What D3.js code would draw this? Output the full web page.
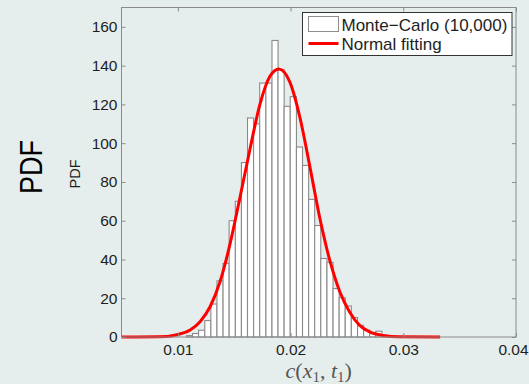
<!DOCTYPE html>
<html>
<head>
<meta charset="utf-8">
<script src="https://cdn.jsdelivr.net/npm/d3@7/dist/d3.min.js"></script>
<style>
  html, body { margin: 0; padding: 0; background: #e5eeec; }
  svg { display: block; }
</style>
</head>
<body>
<svg id="chart" width="529" height="384"></svg>
<script>
// Histogram of 10,000 Monte-Carlo samples of c(x1, t1), scaled as a PDF
const binEdges = [
  0.01076, 0.01130, 0.01184, 0.01239, 0.01293, 0.01347, 0.01401, 0.01455,
  0.01510, 0.01564, 0.01618, 0.01672, 0.01726, 0.01781, 0.01835, 0.01889,
  0.01943, 0.01997, 0.02052, 0.02106, 0.02160, 0.02214, 0.02268, 0.02323,
  0.02377, 0.02431, 0.02485, 0.02539, 0.02594, 0.02648, 0.02702, 0.02756,
  0.02810, 0.02865
];
const binDensity = [
  0.7, 1.8, 3.5, 8.5, 17, 29, 38, 60, 70, 90, 113, 110, 131, 131, 153, 138,
  119, 124, 98, 88.5, 71, 57.5, 40.5, 38.5, 25, 20.3, 16, 10, 6, 3.5, 1.8, 3, 0.8
];

// Fitted normal density, sampled along c
const fitX = [
  0.005, 0.00903, 0.0100, 0.01109, 0.01197, 0.01286, 0.01374, 0.01463,
  0.01551, 0.0164, 0.01728, 0.01817, 0.01896, 0.01994, 0.02082, 0.02171,
  0.02259, 0.02348, 0.02436, 0.02525, 0.02613, 0.02702, 0.0282, 0.02967, 0.03327
];
const fitY = [
  0, 0.3, 1.3, 3.6, 7.9, 15.6, 28.5, 48, 72, 97, 120, 134.5, 138.3, 131.5,
  113.5, 88, 61.5, 39.5, 23.5, 12.8, 6, 2.6, 0.8, 0.1, 0
];

const xTicks = [0.01, 0.02, 0.03, 0.04];
const yTicks = [0, 20, 40, 60, 80, 100, 120, 140, 160];
const legendLabels = ["Monte\u2212Carlo (10,000)", "Normal fitting"];

const svg = d3.select("#chart");
const box = { left: 121.5, right: 516, top: 7.5, bottom: 337 };

const x = d3.scaleLinear().domain([0.005, 0.04]).range([box.left, box.right]);
const y = d3.scaleLinear().domain([0, 170]).range([box.bottom, box.top]);

const axisColor = "#8a8a8a";
const font = "'Liberation Sans', Arial, Helvetica, sans-serif";

// Histogram bars
svg.append("g")
  .selectAll("rect")
  .data(binDensity)
  .join("rect")
  .attr("x", (d, i) => x(binEdges[i]))
  .attr("width", (d, i) => x(binEdges[i + 1]) - x(binEdges[i]))
  .attr("y", d => y(d))
  .attr("height", d => y(0) - y(d))
  .attr("fill", "#ffffff")
  .attr("stroke", "#8a8a8a")
  .attr("stroke-width", 1.1);

// Normal fit curve
const line = d3.line()
  .x((d, i) => x(fitX[i]))
  .y(d => y(d))
  .curve(d3.curveMonotoneX);

svg.append("path")
  .datum(fitY)
  .attr("d", line)
  .attr("fill", "none")
  .attr("stroke", "#ff0000")
  .attr("stroke-width", 3)
  .attr("stroke-linejoin", "round");

// Frame
svg.append("rect")
  .attr("x", box.left).attr("y", box.top)
  .attr("width", box.right - box.left).attr("height", box.bottom - box.top)
  .attr("fill", "none").attr("stroke", axisColor).attr("stroke-width", 1);

// Axes with inward ticks on all four sides
function styleAxis(g, showText) {
  g.select(".domain").remove();
  g.selectAll(".tick line").attr("stroke", axisColor);
  g.selectAll(".tick text")
    .attr("fill", "#1e1e1e")
    .style("font-family", font)
    .style("font-size", "15.5px");
  if (!showText) g.selectAll(".tick text").remove();
}

svg.append("g")
  .attr("transform", `translate(0,${box.bottom})`)
  .call(d3.axisBottom(x).tickValues(xTicks).tickFormat(d3.format(".2f"))
    .tickSizeInner(-4).tickSizeOuter(0).tickPadding(7))
  .call(g => styleAxis(g, true))
  // keep the last label inside the page edge
  .call(g => g.selectAll(".tick text").filter(d => d === 0.04).attr("x", -3));

svg.append("g")
  .attr("transform", `translate(0,${box.top})`)
  .call(d3.axisTop(x).tickValues(xTicks).tickSizeInner(-4).tickSizeOuter(0))
  .call(g => styleAxis(g, false));

svg.append("g")
  .attr("transform", `translate(${box.left},0)`)
  .call(d3.axisLeft(y).tickValues(yTicks).tickSizeInner(-4).tickSizeOuter(0).tickPadding(4))
  .call(g => styleAxis(g, true));

svg.append("g")
  .attr("transform", `translate(${box.right},0)`)
  .call(d3.axisRight(y).tickValues(yTicks).tickSizeInner(-4).tickSizeOuter(0))
  .call(g => styleAxis(g, false));

// X axis title: c(x_1, t_1)
const xt = svg.append("text")
  .attr("x", (box.left + box.right) / 2)
  .attr("y", 378)
  .attr("text-anchor", "middle")
  .attr("fill", "#555555")
  .style("font-family", "'Liberation Serif', 'DejaVu Serif', serif")
  .style("font-size", "22px");
xt.append("tspan").style("font-style", "italic").text("c");
xt.append("tspan").text("(");
xt.append("tspan").style("font-style", "italic").text("x");
xt.append("tspan").attr("dy", 4).style("font-size", "15px").text("1");
xt.append("tspan").attr("dy", -4).text(", ");
xt.append("tspan").style("font-style", "italic").text("t");
xt.append("tspan").attr("dy", 4).style("font-size", "15px").text("1");
xt.append("tspan").attr("dy", -4).text(")");

// Y axis titles
svg.append("text")
  .attr("transform", "translate(75,174) rotate(-90)")
  .attr("text-anchor", "middle")
  .attr("dy", "0.35em")
  .attr("fill", "#1e1e1e")
  .style("font-family", font)
  .style("font-size", "14.5px")
  .text("PDF");

svg.append("text")
  .attr("transform", "translate(31,167) rotate(-90)")
  .attr("text-anchor", "middle")
  .attr("dy", "0.35em")
  .attr("fill", "#000000")
  .attr("textLength", 54)
  .attr("lengthAdjust", "spacingAndGlyphs")
  .style("font-family", font)
  .style("font-size", "32px")
  .text("PDF");

// Legend
const legend = svg.append("g");
legend.append("rect")
  .attr("x", 302.5).attr("y", 12.5).attr("width", 209.5).attr("height", 43)
  .attr("fill", "#ffffff").attr("stroke", "#333333").attr("stroke-width", 1);
legend.append("rect")
  .attr("x", 308.5).attr("y", 16.5).attr("width", 30).attr("height", 15)
  .attr("fill", "#ffffff").attr("stroke", "#8e8e8e").attr("stroke-width", 1);
legend.append("line")
  .attr("x1", 308.5).attr("x2", 338.5).attr("y1", 43.5).attr("y2", 43.5)
  .attr("stroke", "#ff0000").attr("stroke-width", 3);
legend.selectAll("text.lab")
  .data(legendLabels)
  .join("text")
  .attr("class", "lab")
  .attr("x", 341.5)
  .attr("y", (d, i) => i === 0 ? 30.5 : 50)
  .attr("fill", "#1e1e1e")
  .style("font-family", font)
  .style("font-size", "17px")
  .text(d => d);
</script>
</body>
</html>
